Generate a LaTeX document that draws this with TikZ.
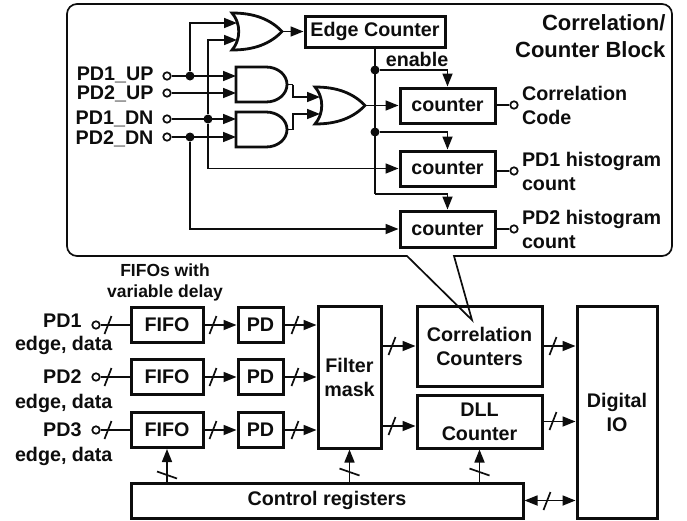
\documentclass[tikz,border=0pt]{standalone}
\usepackage{fontspec}
\setmainfont{Liberation Sans}
\usetikzlibrary{arrows.meta}
\tikzset{
  wire/.style={line width=1.7pt,draw=black!95},
  arrow/.style={wire,-{Triangle[length=13pt,width=10pt]}},
  arrows2/.style={wire,{Triangle[length=13pt,width=10pt]}-{Triangle[length=13pt,width=10pt]}},
  boxtext/.style={font=\bfseries\fontsize{19.7}{24}\selectfont,align=center,text=black!95},
  box/.style={boxtext,draw=black!95,line width=3pt,inner sep=0pt},
  label/.style={boxtext,align=left,anchor=west},
  rlabel/.style={boxtext,align=right,anchor=east},
  pincircle/.style={circle,draw=black!95,fill=white,line width=1.7pt,minimum size=7.5pt,inner sep=0pt},
  dot/.style={circle,fill=black!95,minimum size=9pt,inner sep=0pt}
}
\newcommand{\orgate}[3]{%
  \begin{scope}[shift={(#2,#3)}]
    \draw[black!95,line width=2.8pt,line join=miter] (0,0) .. controls (22,0) and (38,6) .. (50,18.5)
      .. controls (38,31) and (22,37) .. (0,37) .. controls (9,27) and (9,10) .. cycle;
    \coordinate (#1-a) at (5,10);
    \coordinate (#1-b) at (5,27);
    \coordinate (#1-o) at (50,18.5);
  \end{scope}}
\newcommand{\andgate}[3]{%
  \begin{scope}[shift={(#2,#3)}]
    \draw[black!95,line width=2.8pt] (0,0) -- (30,0) .. controls (42,0) and (51,8) .. (51,17.5)
      .. controls (51,27) and (42,35) .. (30,35) -- (0,35) -- cycle;
    \coordinate (#1-w) at (0,17.5);
    \coordinate (#1-o) at (51,17.5);
  \end{scope}}
\newcommand{\hslash}[2]{\draw[wire] (#1-3.5,#2+9) -- (#1+3.5,#2-9);}
\newcommand{\vslash}[2]{\draw[wire] (#1-10,#2-3.5) -- (#1+10,#2+3.5);}

\begin{document}
\begin{tikzpicture}[x=1pt,y=-1pt]
    \useasboundingbox (0,0) rectangle (687,520);

    \node[box,minimum width=140pt,minimum height=31pt] (edge) at (375,31.5) {Edge Counter};
    \node[box,minimum width=95pt,minimum height=35pt] (ctr1) at (447.5,105.5) {counter};
    \node[box,minimum width=95pt,minimum height=35pt] (ctr2) at (447.5,168.5) {counter};
    \node[box,minimum width=95pt,minimum height=36pt] (ctr3) at (447.5,229) {counter};

    \orgate{or1}{232}{13}
    \orgate{or2}{315}{87}
    \andgate{and1}{236}{67}
    \andgate{and2}{236}{112}

    \foreach \n/\t/\y/\ly in {pd1up/PD1\_UP/76/75,pd2up/PD2\_UP/93/94,pd1dn/PD1\_DN/119/119,pd2dn/PD2\_DN/137/139} {
      \node[pincircle] (\n) at (167,\y) {};
      \node[rlabel] (l\n) at (157,\ly) {\t};
    }
    \node[dot] (up) at (190,76) {};
    \node[dot] (dn1) at (208,119) {};
    \node[dot] (dn2) at (190,137) {};
    \node[dot] (en1) at (375,70) {};
    \node[dot] (en2) at (375,132) {};
    \coordinate (en3) at (375,194);

    \draw[arrow] (pd1up) -- (pd1up -| and1-w);
    \draw[arrow] (pd2up) -- (pd2up -| and1-w);
    \draw[arrow] (pd1dn) -- (pd1dn -| and2-w);
    \draw[arrow] (pd2dn) -- (pd2dn -| and2-w);
    \draw[arrow] (up) |- (or1-a);
    \draw[arrow] (dn1) |- (or1-b);
    \draw[arrow] (dn1) |- (ctr2.west);
    \draw[arrow] (dn2) |- (ctr3.west);
    \draw[arrow] (or1-o) -- (edge.west);
    \draw[wire] (and1-o) -- ++(6,0) coordinate (and1-t);
    \draw[arrow] (and1-t) |- (or2-a);
    \draw[wire] (and2-o) -- ++(6,0) coordinate (and2-t);
    \draw[arrow] (and2-t) |- (or2-b);
    \draw[arrow] (or2-o) -- (ctr1.west);
    \draw[wire] (edge.south -| en1) -- (en3);
    \draw[arrow] (en1) -| (ctr1.north);
    \draw[arrow] (en2) -| (ctr2.north);
    \draw[arrow] (en3) -| (ctr3.north);

    \node[boxtext] (enable) at (417,59) {enable};
    \foreach \i/\t/\y in {1/Correlation\\Code/105,2/PD1 histogram\\count/171,3/PD2 histogram\\count/229} {
      \node[pincircle] (out\i) at (514,\y) {};
      \draw[wire,line width=2.6pt] (out\i) -- (out\i -| ctr\i.east);
      \node[label] (lout\i) at (518.5,\y) {\t};
    }
    \node[rlabel,font=\bfseries\fontsize{22}{27}\selectfont] (title) at (669,36) {Correlation/\\Counter Block};

    \node[box,minimum width=125pt,minimum height=80pt] (corr) at (479.5,346) {Correlation\\Counters};
    \node[box,minimum width=125pt,minimum height=53pt] (dll) at (479.5,421.5) {DLL\\Counter};
    \node[box,minimum width=63pt,minimum height=142pt] (filter) at (349.5,377) {Filter\\mask};
    \node[box,minimum width=80pt,minimum height=212pt] (dio) at (617,412) {Digital\\IO};
    \node[box,minimum width=392pt,minimum height=35pt] (ctrl) at (327,500.5) {Control registers};

    \draw[line width=1.7pt,draw=black!95,rounded corners=10pt] (67,130) -- (67,4) -- (672,4) -- (672,256)
      [sharp corners] -- (454,256) -- (472,320) -- (407,256) [rounded corners=10pt] -- (67,256) -- cycle;

    \node[boxtext,font=\bfseries\fontsize{17.5}{21}\selectfont] (fifolabel) at (165,282) {FIFOs with\\variable delay};

    \foreach \r/\y/\ly/\ey in {1/325/321/345,2/377/377/403,3/430/430/456} {
      \node[pincircle] (in\r) at (96,\y) {};
      \node[box,minimum width=72pt,minimum height=35pt] (fifo\r) at (167,\y) {FIFO};
      \node[box,minimum width=45pt,minimum height=35pt] (pd\r) at (260.5,\y) {PD};
      \node[rlabel] (lpd\r) at (85,\ly) {PD\r};
      \node[rlabel] (ledge\r) at (116,\ey) {edge, data};
      \draw[wire] (in\r) -- (fifo\r);
      \draw[arrow] (fifo\r) -- (pd\r);
      \draw[arrow] (pd\r) -- (pd\r -| filter.west);
      \hslash{108}{\y}
      \hslash{213}{\y}
      \hslash{295}{\y}
    }

    \coordinate (fc) at (392,346);
    \coordinate (fd) at (392,426);
    \draw[arrow] (fc -| filter.east) -- (fc -| corr.west);
    \draw[arrow] (fd -| filter.east) -- (fd -| dll.west);
    \draw[arrow] (corr.east) -- (corr.east -| dio.west);
    \draw[arrow] (dll.east) -- (dll.east -| dio.west);
    \draw[arrows2] (ctrl.east) -- (ctrl.east -| dio.west);
    \hslash{392}{346}
    \hslash{392}{426}
    \hslash{553}{346}
    \hslash{553}{421}
    \hslash{547}{501}

    \draw[arrow] (fifo3.south |- ctrl.north) -- (fifo3.south);
    \draw[arrow] (filter.south |- ctrl.north) -- (filter.south);
    \draw[arrow] (dll.south |- ctrl.north) -- (dll.south);
    \vslash{167}{475}
    \vslash{349.5}{472}
    \vslash{479.5}{472}
\end{tikzpicture}
\end{document}
